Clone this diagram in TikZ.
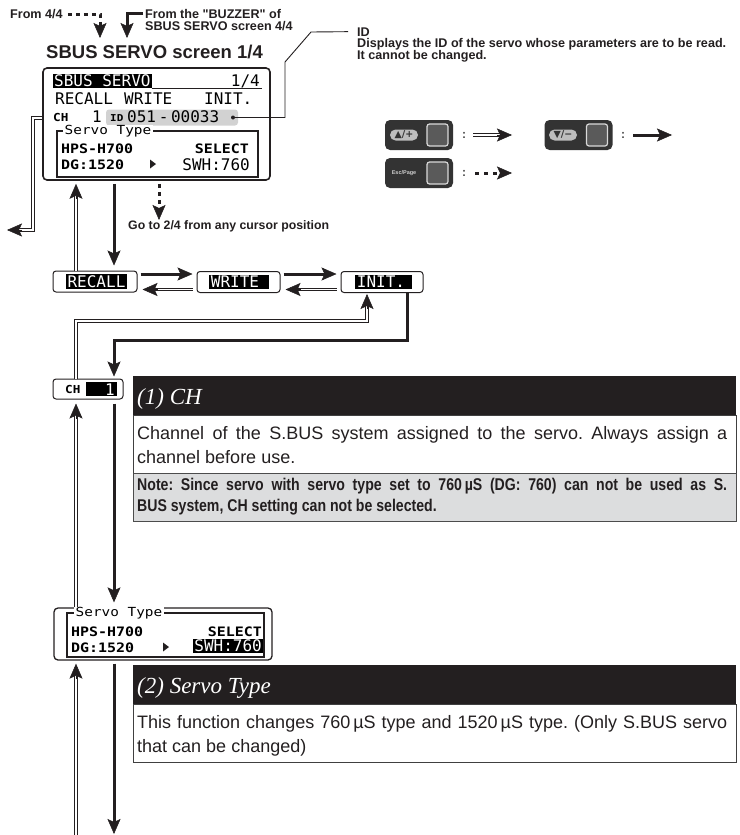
\documentclass[tikz,border=0pt]{standalone}
\usepackage{fontspec}
\setmainfont{Liberation Sans}
\newfontfamily\lblfont{Liberation Sans}
\newfontfamily\hdfont{Liberation Serif}
\newfontfamily\lcdfont{DejaVu Sans Mono}
\newfontfamily\lcdsfont[FakeStretch=1.15]{DejaVu Sans Mono}
\newfontfamily\symfont{DejaVu Sans}
\newfontfamily\narrowfont[FakeStretch=0.83]{Liberation Sans}
\usetikzlibrary{arrows.meta,calc}
\definecolor{ink}{HTML}{231F20}
\definecolor{notegray}{HTML}{DCDDDE}
\definecolor{keydark}{HTML}{333333}
\definecolor{pillgray}{HTML}{BDBDBD}
\definecolor{btngray}{HTML}{5A5A5A}
\definecolor{idgray}{HTML}{D2D2D2}
\frenchspacing
\tikzset{
  >={Stealth[length=15pt,width=13pt,inset=3pt,line width=0.5pt]},
  soll/.style={line width=3pt, draw=ink},
  dotl/.style={line width=3pt, draw=ink, dash pattern=on 4pt off 4pt},
  dbl/.style={draw=ink, line width=0.9pt, double=white, double distance=1.6pt, shorten >=10pt},
  headonly/.style={->, draw=ink, line width=0.9pt},
  lbl/.style={font=\lblfont\bfseries\fontsize{12.6}{14}\selectfont, text=ink, inner sep=0pt},
  lcd/.style={font=\lcdfont\fontsize{16}{18}\selectfont, inner sep=0pt},
  lcds/.style={font=\lcdsfont\bfseries\fontsize{13}{15}\selectfont, inner sep=0pt},
  lcdt/.style={font=\lcdsfont\fontsize{12.5}{14}\selectfont, inner sep=0pt},
  scrbox/.style={draw=ink, line width=1.6pt, rounded corners=4pt, inner sep=0pt},
  btnbox/.style={draw=ink, line width=1pt, rounded corners=3pt, inner sep=0pt, minimum height=21pt},
  inv/.style={fill=black, text=white, inner xsep=2pt, inner ysep=1.5pt},
  bar/.style={fill=ink, inner sep=0pt, anchor=north west, minimum width=603pt, minimum height=39pt},
  body/.style={font=\fontsize{18}{24}\selectfont, text=ink, inner sep=0pt, anchor=base west},
  notetxt/.style={font=\narrowfont\bfseries\fontsize{17}{22}\selectfont, text=ink, inner sep=0pt, anchor=base west},
  head/.style={font=\hdfont\itshape\fontsize{23}{25}\selectfont, text=white, inner sep=0pt, anchor=base west},
  keybox/.style={fill=keydark, rounded corners=5pt, minimum width=68pt, minimum height=30pt, inner sep=0pt},
  pill/.style={fill=pillgray, rounded corners=5.5pt, minimum width=28pt, minimum height=11pt, inner sep=0pt, text=keydark, font=\symfont\bfseries\fontsize{9.5}{10}\selectfont},
  btn/.style={fill=btngray, draw=white!85!black, line width=1.2pt, rounded corners=2.5pt, minimum width=21pt, minimum height=22pt, inner sep=0pt},
  colon/.style={font=\bfseries\fontsize{12}{12}\selectfont, text=black!70, inner sep=0pt},
}
\newcommand\dbltip[2]{\draw[headonly] ($#2!15pt!#1$) -- #2;}
\begin{document}
\begin{tikzpicture}[x=1pt,y=-1pt]
\useasboundingbox (0,0) rectangle (739,835);

% ---------- top labels ----------
\node[lbl, anchor=base west] (f44) at (10,18.5) {From 4/4};
\node[lbl, anchor=base west] (buz1) at (145,18.5) {From the "BUZZER" of};
\node[lbl, anchor=base west] (buz2) at (145,30.5) {SBUS SERVO screen 4/4};
\node[font=\lblfont\bfseries\fontsize{18.5}{20}\selectfont, text=ink, inner sep=0pt, anchor=base west] (title) at (46,58) {SBUS SERVO screen 1/4};
\coordinate (t44) at (100,38);
\coordinate (tbz) at (127,38);
\draw[dotl,->] ([xshift=5pt]f44.east) -| (t44);
\draw[soll,->] ([xshift=-2pt]buz1.west) -| (tbz);

% ---------- screen 1 ----------
\node[scrbox, minimum width=227pt, minimum height=112pt] (scr1) at (156.5,124) {};
\node[lcd, inv, inner xsep=1pt, inner ysep=1pt, anchor=west] (sbh) at (53,81) {SBUS SERVO};
\draw[line width=1.4pt, draw=ink] (sbh.south east) -- (sbh.south east -| 262,0);
\node[lcd, anchor=base east] (pg) at (260,86) {1/4};
\node[lcd, anchor=base west] (mrec) at (55,104.5) {RECALL};
\node[lcd, anchor=base west] (mwri) at (124,104.5) {WRITE};
\node[lcd, anchor=base west] (mini) at (204,104.5) {INIT.};
\node[lcds, font=\lcdsfont\bfseries\fontsize{11}{12}\selectfont, anchor=base west] (mch) at (53,121.5) {CH};
\node[lcd, anchor=base] (mch1) at (97,122.5) {1};
\node[fill=idgray, rounded corners=3pt, minimum width=132pt, minimum height=16pt, inner sep=0pt] (idbox) at (172,117.5) {};
\node[lcds, font=\lcdsfont\bfseries\fontsize{9.5}{10}\selectfont, anchor=base west] (idl) at (110,121.5) {ID};
\node[lcd, anchor=base west] (idnum) at (127,122.5) {051\,-\,00033};
\coordinate (idd) at (233,117.5);
\fill[ink] (idd) circle (2pt);
\draw[line width=1.4pt, draw=ink] (57,131) rectangle (258,177);
\node[lcdt, fill=white, inner xsep=1.5pt, anchor=west] (stt1) at (63,131) {Servo Type};
\node[lcds, anchor=base west] (hps1) at (61,153) {HPS-H700};
\node[lcds, anchor=base east] (sel1) at (249,153) {SELECT};
\node[lcds, anchor=base west] (dg1) at (61,169) {DG:1520};
\fill[ink] (150,159.5) -- (156,164) -- (150,168.5) -- cycle;
\node[lcd, anchor=base east] (swh1) at (250,170) {SWH:760};

% ID leader
\node[lbl, anchor=base west] (idt) at (357,36) {ID};
\node[lbl, anchor=base west] (idt2) at (357,47.5) {Displays the ID of the servo whose parameters are to be read.};
\node[lbl, anchor=base west] (idt3) at (357,59.5) {It cannot be changed.};
\draw[line width=0.9pt, draw=ink] (idd) -- (285,117.5) -- (285,62) -- (311,32) -- ($(idt.west)+(-9,0)$);

% left exit from screen 1
\coordinate (lc1) at (33,230);
\coordinate (ltip) at (7,230);
\draw[dbl] (scr1.west |- 0,118) -| (lc1) -- (ltip);
\dbltip{(lc1)}{(ltip)}

% go to 2/4
\node[lbl, font=\lblfont\bfseries\fontsize{12.3}{14}\selectfont, anchor=base west] (goto) at (128,229) {Go to 2/4 from any cursor position};
\coordinate (gtip) at (159,220);
\draw[dotl,->] ($(scr1.south -| 159,0)+(0,3)$) -- (gtip);

% ---------- legend ----------
\node[keybox] (k1) at (419,135) {};
\node[pill] (k1p) at (404,135) {▲/+};
\node[btn] (k1b) at (437.5,135) {};
\node[colon] (c1) at (464,135) {:};
\coordinate (la1) at (473,135);
\coordinate (la2) at (512,135);
\draw[dbl] (la1) -- (la2);
\dbltip{(la1)}{(la2)}
\node[keybox] (k2) at (578.5,135) {};
\node[pill] (k2p) at (563,135) {▼/−};
\node[btn] (k2b) at (597,135) {};
\node[colon] (c2) at (623,135) {:};
\coordinate (lb1) at (633,135);
\coordinate (lb2) at (672,135);
\draw[soll,->] (lb1) -- (lb2);
\node[keybox] (k3) at (419,173) {};
\node[font=\lblfont\bfseries\fontsize{5.5}{6}\selectfont, text=white!80!black, inner sep=0pt] (k3t) at (404,173) {Esc/Page};
\node[btn] (k3b) at (437.5,173) {};
\node[colon] (c3) at (464,173) {:};
\coordinate (lc3a) at (475,173);
\coordinate (lc3b) at (512,173);
\draw[dotl, dash pattern=on 4pt off 5pt,->] (lc3a) -- (lc3b);

% ---------- RECALL / WRITE / INIT ----------
\node[btnbox, minimum width=84pt] (recall) at (95,281.5) {};
\node[lcd, inv] (recl) at (96.5,281.5) {RECALL};
\node[btnbox, minimum width=83pt] (write) at (238.5,282) {};
\node[lcd, inv] (wril) at (239,282) {WRITE\kern8pt};
\node[btnbox, minimum width=82pt] (init) at (382,282) {};
\node[lcd, inv] (inil) at (383.5,282) {INIT.\kern5pt};

\draw[soll,->] ($(scr1.south -| 114,0)+(0,3)$) -- ($(recall.north -| 114,0)+(0,-5)$);
\coordinate (rs1) at (recall.north -| 76,0);
\coordinate (rs2) at ($(scr1.south -| 76,0)+(0,3)$);
\draw[dbl] (rs1) -- (rs2);
\dbltip{(rs1)}{(rs2)}

\draw[soll,->] ($(recall.east |- 0,274)+(3,0)$) -- ($(write.west |- 0,274)+(-4,0)$);
\coordinate (rw1) at ($(write.west |- 0,289.5)+(-4,0)$);
\coordinate (rw2) at ($(recall.east |- 0,289.5)+(5,0)$);
\draw[dbl] (rw1) -- (rw2);
\dbltip{(rw1)}{(rw2)}
\draw[soll,->] ($(write.east |- 0,274)+(3,0)$) -- ($(init.west |- 0,274)+(-4,0)$);
\coordinate (wi1) at ($(init.west |- 0,289.5)+(-4,0)$);
\coordinate (wi2) at ($(write.east |- 0,289.5)+(5,0)$);
\draw[dbl] (wi1) -- (wi2);
\dbltip{(wi1)}{(wi2)}

% ---------- CH ----------
\node[btnbox, minimum width=70pt, minimum height=20pt] (ch) at (88,389) {};
\node[lcds, font=\lcdsfont\bfseries\fontsize{11}{12}\selectfont, anchor=base west] (chl) at (65,393) {CH};
\fill[black] (86,382) rectangle (117,396);
\node[lcd, text=white, anchor=base east] (chv) at (115,395) {1};

\coordinate (ci1) at (ch.north -| 76,0);
\coordinate (ci2) at ($(init.south -| 367,0)+(0,1)$);
\coordinate (cic) at (367,321);
\draw[dbl] (ci1) -- (76,321) -- (cic) -- (ci2);
\dbltip{(cic)}{(ci2)}
\draw[soll,->] (init.south -| 407,0) |- (114,340) -- ($(ch.north -| 114,0)+(0,-2)$);

% ---------- servo type screen ----------
\node[scrbox, line width=1.3pt, minimum width=218pt, minimum height=52pt] (scr2) at (163,634) {};
\draw[line width=1.4pt, draw=ink] (67,613) rectangle (264,657);
\node[lcdt, fill=white, inner xsep=1.5pt, anchor=west] (stt2) at (74,613) {Servo Type};
\node[lcds, anchor=base west] (hps2) at (71,636) {HPS-H700};
\node[lcds, anchor=base east] (sel2) at (262,636) {SELECT};
\node[lcds, anchor=base west] (dg2) at (71,652) {DG:1520};
\fill[ink] (163,642.5) -- (169,647) -- (163,651.5) -- cycle;
\node[lcd, inv, inner sep=1pt, anchor=east] (swh2) at (263,646) {SWH:760};

\draw[soll,->] ($(ch.south -| 114,0)+(0,4)$) -- ($(scr2.north -| 114,0)+(0,-5)$);
\coordinate (cs1) at (scr2.north -| 76,0);
\coordinate (cs2) at ($(ch.south -| 76,0)+(0,4)$);
\draw[dbl] (cs1) -- (cs2);
\dbltip{(cs1)}{(cs2)}

\coordinate (b1) at (114,834);
\draw[soll,->] ($(scr2.south -| 114,0)+(0,3)$) -- (b1);
\coordinate (b2) at (76,835);
\coordinate (b2t) at ($(scr2.south -| 76,0)+(0,3)$);
\draw[dbl] (b2) -- (b2t);
\dbltip{(b2)}{(b2t)}

% ---------- box 1 ----------
\node[bar] (bar1) at (133,376) {};
\node[head] (h1) at (137,404) {(1) CH};
\draw[draw=black!75, line width=0.8pt] (133,415) rectangle (736,473);
\draw[draw=black!70, fill=notegray, line width=1pt] (133,473) rectangle (736,521);
\node[body] (b1l1) at (137,439) {\makebox[590pt][s]{Channel of the S.BUS system assigned to the servo. Always assign a}};
\node[body] (b1l2) at (137,463) {channel before use.};
\node[notetxt] (n1) at (137,490) {\makebox[590pt][s]{Note: Since servo with servo type set to 760\,µS (DG: 760) can not be used as S.}};
\node[notetxt] (n2) at (137,511) {BUS system, CH setting can not be selected.};

% ---------- box 2 ----------
\node[bar] (bar2) at (133,665) {};
\node[head] (h2) at (137,693) {(2) Servo Type};
\draw[draw=black!75, line width=0.8pt] (133,704) rectangle (736,762);
\node[body] (b2l1) at (137,728) {\makebox[590pt][s]{This function changes 760\,µS type and 1520\,µS type. (Only S.BUS servo}};
\node[body] (b2l2) at (137,752) {that can be changed)};
\end{tikzpicture}
\end{document}
